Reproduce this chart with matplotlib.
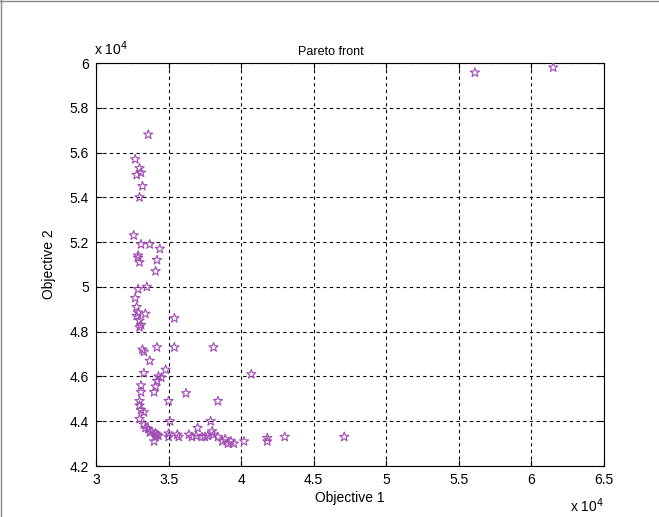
import matplotlib

matplotlib.use("Agg")
import matplotlib.pyplot as plt
import numpy as np
from matplotlib.path import Path
from matplotlib.ticker import FuncFormatter

plt.rcParams["font.family"] = ["Liberation Sans", "DejaVu Sans"]

# Pareto front points, in units of 1e4
obj1 = [
    5.61, 6.15, 3.36, 3.27, 3.30, 3.28, 3.31, 3.32, 3.30,
    3.26, 3.31, 3.37, 3.44, 3.29, 3.29, 3.42, 3.30, 3.41,
    3.29, 3.35, 3.27, 3.28, 3.29, 3.34, 3.28, 3.30, 3.31, 3.30, 3.54,
    3.32, 3.33, 3.42, 3.54, 3.81, 3.37, 3.48, 4.07,
    3.33, 3.43, 3.45, 3.42, 3.31, 3.41, 3.40, 3.31, 3.62, 3.30, 3.50,
    3.30, 3.31, 3.33, 3.30, 3.51, 3.79, 3.84,
    3.33, 3.34, 3.36, 3.38, 3.37, 3.41, 3.42, 3.43, 3.41, 3.40,
    3.50, 3.50, 3.56, 3.57, 3.64, 3.66, 3.69, 3.70, 3.73, 3.75, 3.77,
    3.80, 3.81, 3.84, 3.87, 3.89, 3.91, 3.93, 3.95,
    4.02, 4.18, 4.18, 4.30, 4.71,
]
obj2 = [
    5.957, 5.98, 5.68, 5.57, 5.53, 5.50, 5.51, 5.45, 5.40,
    5.23, 5.19, 5.19, 5.17, 5.14, 5.13, 5.12, 5.11, 5.07,
    4.99, 5.00, 4.95, 4.91, 4.885, 4.88, 4.87, 4.85, 4.83, 4.82, 4.86,
    4.72, 4.71, 4.73, 4.73, 4.73, 4.67, 4.63, 4.61,
    4.615, 4.60, 4.595, 4.58, 4.56, 4.555, 4.53, 4.53, 4.525, 4.49, 4.49,
    4.47, 4.45, 4.44, 4.41, 4.40, 4.40, 4.49,
    4.385, 4.37, 4.365, 4.355, 4.35, 4.345, 4.34, 4.335, 4.33, 4.31,
    4.345, 4.33, 4.34, 4.33, 4.34, 4.33, 4.335, 4.37, 4.33, 4.33, 4.335,
    4.355, 4.34, 4.33, 4.31, 4.32, 4.30, 4.31, 4.30,
    4.31, 4.325, 4.31, 4.33, 4.33,
]
x_ticks = [3, 3.5, 4, 4.5, 5, 5.5, 6, 6.5]
y_ticks = [4.2, 4.4, 4.6, 4.8, 5, 5.2, 5.4, 5.6, 5.8, 6]
scale = 1e4

x = np.array(obj1) * scale
y = np.array(obj2) * scale

fig = plt.figure(figsize=(6.59, 5.17), dpi=100)
ax = fig.add_axes([0.1457, 0.0986, 0.7709, 0.7795])

star = Path.unit_regular_star(5, innerCircle=0.4)
ax.scatter(x, y, marker=star, s=48, facecolors="none",
           edgecolors="#a04cb4", linewidths=0.8, zorder=3)

ax.set_xlim(x_ticks[0] * scale, x_ticks[-1] * scale)
ax.set_ylim(y_ticks[0] * scale, y_ticks[-1] * scale)
ax.set_xticks([t * scale for t in x_ticks])
ax.set_yticks([t * scale for t in y_ticks])
fmt = FuncFormatter(lambda v, pos: f"{v / scale:g}")
ax.xaxis.set_major_formatter(fmt)
ax.yaxis.set_major_formatter(fmt)
ax.tick_params(direction="in", length=4, labelsize=10, width=0.8,
               top=True, right=True, colors="black", pad=5)

ax.grid(True, color="black", linestyle=(0, (3, 3)), linewidth=0.8)
for sp in ax.spines.values():
    sp.set_linewidth(0.8)

ax.set_title("Pareto front", fontsize=9, pad=6, x=0.463)
ax.set_xlabel("Objective 1", fontsize=10, labelpad=3)
ax.set_ylabel("Objective 2", fontsize=10, labelpad=10)

# MATLAB-style exponent labels
ax.text(-0.004, 1.012, r"x 10$^{4}$", transform=ax.transAxes, fontsize=10,
        ha="left", va="bottom")
ax.text(1.0, -0.075, r"x 10$^{4}$", transform=ax.transAxes, fontsize=10,
        ha="right", va="top")

# thin frame around the window like the screenshot
fig.add_artist(plt.Line2D([0.001, 0.001], [0, 1], color="#888888", lw=1))
fig.add_artist(plt.Line2D([0, 1], [0.999, 0.999], color="#888888", lw=1))

fig.savefig("out.png", dpi=100)
